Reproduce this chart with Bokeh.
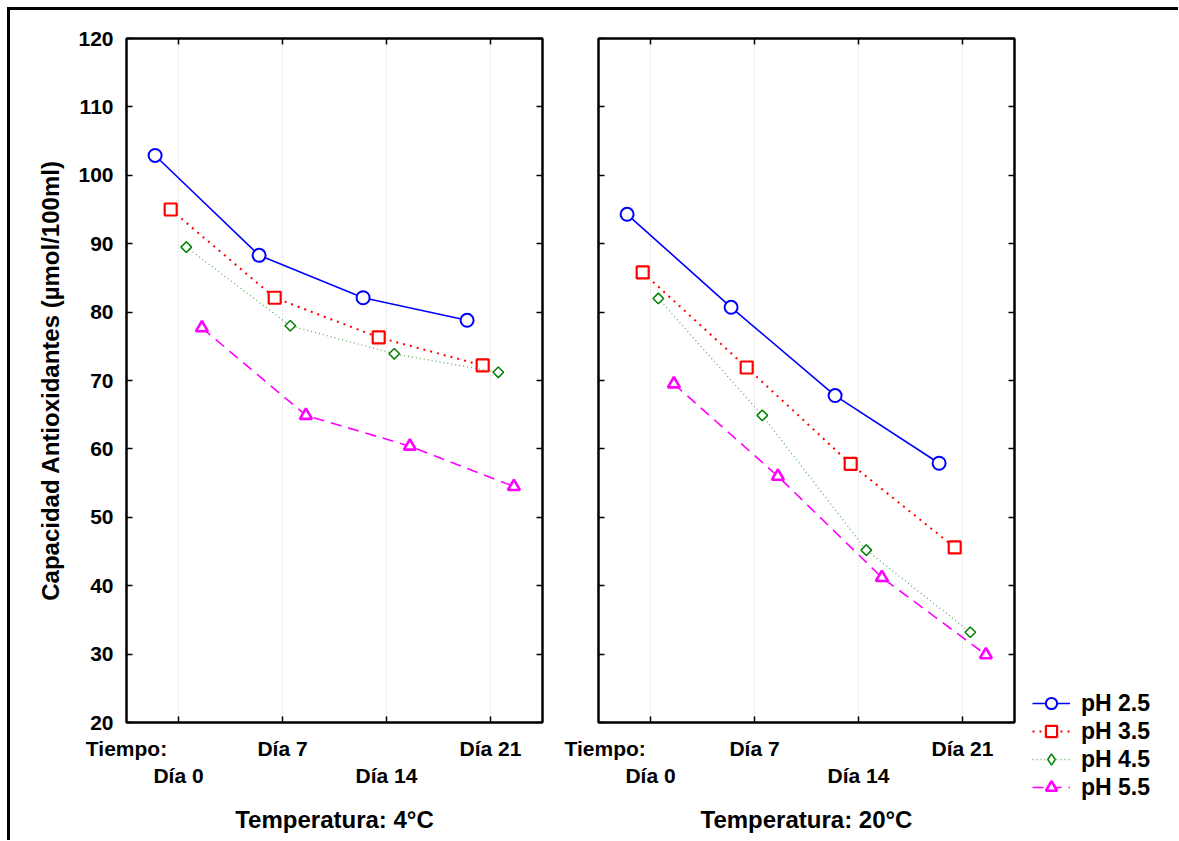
import math
from bokeh.plotting import figure
from bokeh.models import FixedTicker, LinearAxis, Range1d, Legend, LegendItem, Label, Spacer
from bokeh.layouts import row, column
from bokeh.embed import file_html
from bokeh.resources import INLINE

# Sampling days (categorical positions 0..3)
days = ["Día 0", "Día 7", "Día 14", "Día 21"]
day_pos = [0, 1, 2, 3]
ph_labels = ["pH 2.5", "pH 3.5", "pH 4.5", "pH 5.5"]
temp_labels = ["Temperatura: 4°C", "Temperatura: 20°C"]
y_ticks = [20, 30, 40, 50, 60, 70, 80, 90, 100, 110, 120]
y_title = "Capacidad Antioxidantes (µmol/100ml)"

# Antioxidant capacity (µmol/100ml) at 4 °C
cap_4c_ph25 = [102.9, 88.3, 82.1, 78.8]
cap_4c_ph35 = [95.0, 82.1, 76.3, 72.2]
cap_4c_ph45 = [89.5, 78.0, 73.9, 71.2]
cap_4c_ph55 = [77.7, 64.9, 60.4, 54.5]

# Antioxidant capacity (µmol/100ml) at 20 °C
cap_20c_ph25 = [94.3, 80.7, 67.8, 57.9]
cap_20c_ph35 = [85.8, 71.9, 57.8, 45.6]
cap_20c_ph45 = [82.0, 64.9, 45.2, 33.2]
cap_20c_ph55 = [69.5, 56.0, 41.2, 29.9]

series_4c = [cap_4c_ph25, cap_4c_ph35, cap_4c_ph45, cap_4c_ph55]
series_20c = [cap_20c_ph25, cap_20c_ph35, cap_20c_ph45, cap_20c_ph55]

# Horizontal dodge so the pH groups do not overlap
dodge = [-0.225, -0.075, 0.075, 0.225]

marker_colors = ["#0000ff", "#ff0000", "#008000", "#ff00ff"]
line_colors = ["#0000ff", "#ff0000", "#5fae5f", "#ff00ff"]
line_dashes = ["solid", "2 5", "1 3", "11 7"]
line_widths = [1.6, 2.0, 1.3, 1.6]

SANS = "Liberation Sans"
TICK_SIZE = "21px"
FRAME_W, FRAME_H = 416, 684
TOP, BOTTOM = 28, 118


def draw_series(p, i, xs, vals, swatch=False):
    ln = p.line(xs, vals, line_color=line_colors[i], line_width=line_widths[i],
                line_dash=line_dashes[i])
    common = dict(line_color=marker_colors[i], fill_color="white")
    if i == 0:
        mk = p.scatter(xs, vals, marker="circle", size=13, line_width=2, **common)
    elif i == 1:
        mk = p.scatter(xs, vals, marker="square", size=12, line_width=2.2, **common)
    elif i == 2:
        if swatch:
            mk = p.scatter(xs, vals, marker="diamond", size=14, line_width=1.5, **common)
        else:
            mk = p.scatter(xs, vals, marker="square", size=7.5, angle=math.pi / 4,
                           line_width=1.5, **common)
    else:
        mk = p.scatter(xs, vals, marker="triangle", size=12, line_width=2.6, **common)
    return ln, mk


def tick_axis(axis, ticks):
    # frame ticks pointing inwards, no labels
    axis.ticker = FixedTicker(ticks=ticks)
    axis.major_label_text_color = None
    axis.major_label_text_font_size = "1px"
    axis.major_label_standoff = 0
    axis.major_tick_in = 6
    axis.major_tick_out = 0
    axis.major_tick_line_width = 1.5
    axis.minor_tick_line_color = None
    axis.axis_line_color = "black"
    axis.axis_line_width = 2


def label_axis(ticks, labels, standoff):
    # a row of tick labels without line or tick marks
    ax = LinearAxis(ticker=FixedTicker(ticks=ticks),
                    major_label_overrides=dict(zip(ticks, labels)))
    ax.axis_line_color = None
    ax.major_tick_line_color = None
    ax.minor_tick_line_color = None
    ax.major_label_text_font = SANS
    ax.major_label_text_font_style = "bold"
    ax.major_label_text_font_size = TICK_SIZE
    ax.major_label_text_color = "black"
    ax.major_label_standoff = standoff
    return ax


def make_panel(series, title, first):
    p = figure(
        frame_width=FRAME_W, frame_height=FRAME_H,
        x_range=Range1d(-0.5, 3.5), y_range=Range1d(20, 120),
        output_backend="svg", toolbar_location=None,
        min_border_left=50 if first else 34,
        min_border_right=22 if first else 16,
        min_border_top=TOP, min_border_bottom=BOTTOM,
        background_fill_color="white", border_fill_color="white",
    )
    p.outline_line_color = "black"
    p.outline_line_width = 2

    # vertical dotted guides at each sampling day
    p.xgrid.ticker = FixedTicker(ticks=day_pos)
    p.xgrid.grid_line_color = "#cfcfcf"
    p.xgrid.grid_line_dash = "1 2"
    p.ygrid.grid_line_color = None

    ya = p.yaxis[0]
    if first:
        ya.ticker = FixedTicker(ticks=y_ticks)
        ya.major_tick_in = 6
        ya.major_tick_out = 0
        ya.major_tick_line_width = 1.5
        ya.minor_tick_line_color = None
        ya.axis_line_width = 2
        ya.major_label_text_font = SANS
        ya.major_label_text_font_style = "bold"
        ya.major_label_text_font_size = TICK_SIZE
        ya.major_label_text_color = "black"
        ya.major_label_standoff = 13
    else:
        tick_axis(ya, y_ticks)

    tick_axis(p.xaxis[0], day_pos)

    # two staggered rows of day labels, then the temperature title
    row1 = label_axis([-0.5, 1, 3], ["Tiempo:", days[1], days[3]], 8)
    p.add_layout(row1, "below")
    row2 = label_axis([0, 2], [days[0], days[2]], -5)
    row2.axis_label = title
    row2.axis_label_text_font = SANS
    row2.axis_label_text_font_style = "bold"
    row2.axis_label_text_font_size = "24px"
    row2.axis_label_text_color = "black"
    row2.axis_label_standoff = 16
    p.add_layout(row2, "below")

    top = LinearAxis()
    tick_axis(top, day_pos)
    p.add_layout(top, "above")
    right = LinearAxis()
    tick_axis(right, y_ticks)
    p.add_layout(right, "right")

    for i, vals in enumerate(series):
        xs = [d + dodge[i] for d in day_pos]
        draw_series(p, i, xs, vals)
    return p


# strip on the left carrying the shared y title
title_strip = figure(
    frame_width=65, frame_height=FRAME_H,
    x_range=Range1d(0, 65), y_range=Range1d(20, 120),
    x_axis_location=None, y_axis_location=None,
    output_backend="svg", toolbar_location=None,
    min_border_left=0, min_border_right=0,
    min_border_top=TOP, min_border_bottom=BOTTOM,
)
title_strip.grid.visible = False
title_strip.outline_line_color = None
title_strip.add_layout(Label(
    x=40, y=70, text=y_title, angle=math.pi / 2,
    text_align="center", text_baseline="middle",
    text_font=SANS, text_font_style="bold", text_font_size="24px", text_color="black",
))

p1 = make_panel(series_4c, temp_labels[0], True)
p2 = make_panel(series_20c, temp_labels[1], False)

# legend panel, stacked under a spacer so that it sits low on the right
LEG_TOP = 679
leg_fig = figure(
    frame_width=142, frame_height=130,
    x_range=Range1d(0, 1), y_range=Range1d(0, 1),
    x_axis_location=None, y_axis_location=None,
    output_backend="svg", toolbar_location=None,
    min_border_left=2, min_border_right=4, min_border_top=0, min_border_bottom=0,
)
leg_fig.grid.visible = False
leg_fig.outline_line_color = None
items = []
for i in range(4):
    # points placed outside the visible range: only the legend swatch shows
    ln, mk = draw_series(leg_fig, i, [-5, -4], [-5, -5], swatch=True)
    items.append(LegendItem(label=ph_labels[i], renderers=[ln, mk]))
legend = Legend(
    items=items, location="top_left", orientation="vertical",
    glyph_width=38, glyph_height=28, spacing=0, padding=0, margin=0,
    label_standoff=11, label_height=28,
    label_text_font=SANS, label_text_font_style="bold", label_text_font_size="23px",
    label_text_color="black",
    border_line_color=None, background_fill_alpha=0,
)
leg_fig.add_layout(legend, "center")
leg_col = column(Spacer(width=148, height=LEG_TOP), leg_fig)

layout = row(title_strip, p1, p2, leg_col,
             styles={"border-top": "3px solid black",
                     "border-left": "3px solid black",
                     "margin-left": "7px", "margin-top": "7px"})

open("out.html", "w").write(file_html(layout, INLINE))
